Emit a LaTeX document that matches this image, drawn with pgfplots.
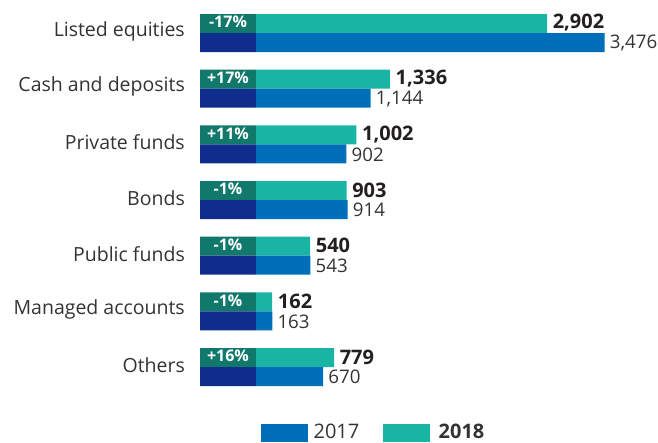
\documentclass[border=0pt]{standalone}
\usepackage{pgfplots}
\pgfplotsset{compat=1.18}
\usepackage{fontspec}
\setmainfont{Open Sans}
\definecolor{teal18}{HTML}{1AB4A4}
\definecolor{blue17}{HTML}{006FBA}
\definecolor{darkteal}{HTML}{11786C}
\definecolor{navy}{HTML}{0E2D8C}
\definecolor{txt}{HTML}{333333}
\definecolor{txtb}{HTML}{231F20}
\begin{document}
\begin{tikzpicture}[x=1bp,y=1bp]
\path[use as bounding box] (0,0) rectangle (658,443);
\begin{axis}[
  at={(200bp,437.8bp)}, anchor=north west,
  scale only axis, width=457.2bp, height=389.7bp,
  xmin=-558, xmax=4000, ymin=-0.5, ymax=6.5,
  axis line style={draw=none}, xtick=\empty,
  ytick={0,1,2,3,4,5,6},
  yticklabels={Others, Managed accounts, Public funds, Bonds, Private funds, Cash and deposits, Listed equities},
  major tick length=0pt,
  yticklabel style={font=\fontsize{19.5bp}{22bp}\selectfont, text=txt, anchor=east, inner sep=0pt, xshift=-15bp, yshift=2bp},
  clip=false,
  /pgf/number format/.cd, fixed, precision=0, 1000 sep={,}, assume math mode=true,
  /pgfplots/.cd,
  legend columns=2,
  legend style={draw=none, fill=none, at={(0.1334,-0.0965)}, anchor=west, inner sep=0pt,
    font=\fontsize{20bp}{22bp}\selectfont, text=txt,
    /tikz/every odd column/.append style={column sep=4bp},
    /tikz/every even column/.append style={column sep=22bp}},
  legend image code/.code={\fill[#1] (0bp,-8.5bp) rectangle (46bp,8.5bp);},
]
% 2018 bars
\addplot[forget plot, xbar, bar width=19bp, bar shift=9.5bp, fill=teal18, draw=none,
  nodes near coords, nodes near coords style={font=\bfseries\fontsize{20bp}{22bp}\selectfont, text=txtb, anchor=west, inner sep=1bp, xshift=4.5bp, yshift=10bp}]
  coordinates {(2902,6) (1336,5) (1002,4) (903,3) (540,2) (162,1) (779,0)};
% 2017 bars
\addplot[forget plot, xbar, bar width=19bp, bar shift=-9.5bp, fill=blue17, draw=none,
  nodes near coords, nodes near coords style={font=\fontsize{18.7bp}{22bp}\selectfont, text=txt, anchor=west, inner sep=0.5bp, xshift=4.5bp, yshift=-10bp}]
  coordinates {(3476,6) (1144,5) (902,4) (914,3) (543,2) (163,1) (670,0)};
% label boxes
\addplot[forget plot, xbar, bar width=19bp, bar shift=9.5bp, fill=darkteal, draw=none]
  coordinates {(-558,6) (-558,5) (-558,4) (-558,3) (-558,2) (-558,1) (-558,0)};
\addplot[forget plot, xbar, bar width=19bp, bar shift=-9.5bp, fill=navy, draw=none]
  coordinates {(-558,6) (-558,5) (-558,4) (-558,3) (-558,2) (-558,1) (-558,0)};
% percentage labels
\addplot[forget plot, only marks, mark=none, point meta=explicit symbolic,
  nodes near coords, nodes near coords align=center,
  nodes near coords style={font=\bfseries\fontsize{16bp}{18bp}\selectfont, text=white, anchor=center, yshift=11bp}]
  coordinates {(-279,6)[-17\%] (-279,5)[+17\%] (-279,4)[+11\%] (-279,3)[-1\%] (-279,2)[-1\%] (-279,1)[-1\%] (-279,0)[+16\%]};
\addlegendimage{blue17}
\addlegendentry{2017}
\addlegendimage{teal18}
\addlegendentry{\hspace{3bp}\textbf{2018}}
\end{axis}
\end{tikzpicture}
\end{document}
